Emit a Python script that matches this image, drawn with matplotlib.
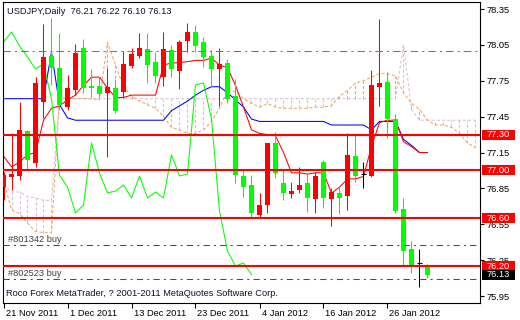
import matplotlib
matplotlib.use("Agg")
import matplotlib.pyplot as plt
from matplotlib.patches import Rectangle
from matplotlib.transforms import blended_transform_factory, ScaledTranslation
import numpy as np

plt.rcParams['font.family'] = ['Liberation Sans', 'DejaVu Sans']

# ---------------- data ----------------
title_text = "USDJPY,Daily  76.21 76.22 76.10 76.13"
copyright_text = "Roco Forex MetaTrader, ? 2001-2011 MetaQuotes Software Corp."

opens = [76.862, 76.945, 76.954, 77.330, 77.062, 77.572, 77.957, 77.857, 77.531, 77.673,
         78.024, 77.706, 77.706, 77.648, 77.689, 77.656, 77.873, 77.957, 78.016, 77.907,
         77.781, 78.007, 77.832, 78.082, 78.158, 78.074, 77.957, 77.848, 77.899, 77.623,
         76.954, 76.878, 76.628, 76.711, 77.230, 76.895, 76.803, 76.837, 76.895, 76.761,
         77.071, 76.761, 76.812, 76.787, 77.121, 76.970, 76.954, 77.698, 77.740, 77.430,
         76.678, 76.343, 76.226, 76.21]
highs = [76.987, 77.313, 77.572, 77.340, 77.781, 78.225, 78.275, 78.149, 77.798, 78.057,
         78.099, 77.848, 77.781, 77.857, 77.765, 77.999, 78.024, 78.149, 78.149, 77.990,
         78.158, 78.049, 78.091, 78.233, 78.216, 78.116, 78.007, 78.024, 77.932, 77.765,
         77.004, 76.962, 76.812, 77.230, 77.322, 77.004, 76.904, 77.029, 76.970, 76.987,
         77.087, 76.853, 76.862, 77.313, 77.297, 77.071, 77.840, 78.266, 77.823, 77.472,
         76.770, 76.410, 76.343, 76.22]
lows = [76.753, 76.837, 76.920, 77.004, 77.029, 77.439, 77.715, 77.506, 77.506, 77.631,
        77.648, 77.614, 77.614, 77.113, 77.480, 77.614, 77.857, 77.940, 77.731, 77.731,
        77.706, 77.781, 77.681, 77.990, 77.990, 77.865, 77.706, 77.539, 77.564, 76.895,
        76.778, 76.603, 76.611, 76.644, 76.937, 76.753, 76.770, 76.812, 76.653, 76.644,
        76.686, 76.536, 76.636, 76.669, 76.904, 76.853, 76.945, 77.539, 77.271, 76.644,
        76.210, 76.143, 76.026, 76.10]
closes = [76.962, 76.970, 77.338, 77.088, 77.731, 77.949, 77.857, 77.547, 77.689, 77.982,
          77.689, 77.689, 77.639, 77.698, 77.497, 77.890, 77.974, 78.024, 77.882, 77.790,
          78.016, 77.848, 78.074, 78.158, 78.041, 77.949, 77.848, 77.890, 77.598, 76.962,
          76.862, 76.644, 76.711, 77.230, 76.979, 76.812, 76.828, 76.878, 76.770, 76.954,
          76.770, 76.820, 76.770, 77.129, 76.954, 76.970, 77.715, 77.731, 77.430, 76.661,
          76.327, 76.201, 76.226, 76.13]

tenkan = [77.12, 77.03, 77.07, 77.13, 77.15, 77.42, 77.52, 77.54, 77.59, 77.63,
          77.71, 77.78, 77.78, 77.69, 77.61, 77.61, 77.63, 77.63, 77.63, 77.63,
          77.88, 77.90, 77.90, 77.91, 77.92, 77.92, 77.94, 77.88, 77.86, 77.71,
          77.53, 77.34, 77.31, 77.30, 77.29, 77.15, 76.98, 76.98, 76.97, 76.98,
          76.98, 76.81, 76.86, 76.93, 76.93, 76.95, 77.20, 77.40, 77.42, 77.42,
          77.24, 77.20, 77.15, 77.15]
kijun = [77.60, 77.60, 77.60, 77.60, 77.60, 77.60, 77.99, 77.55, 77.44, 77.42,
         77.42, 77.42, 77.42, 77.42, 77.42, 77.42, 77.42, 77.42, 77.42, 77.42,
         77.42, 77.50, 77.54, 77.58, 77.63, 77.67, 77.70, 77.70, 77.65, 77.59,
         77.53, 77.43, 77.41, 77.41, 77.41, 77.41, 77.41, 77.41, 77.41, 77.41,
         77.41, 77.38, 77.38, 77.38, 77.38, 77.38, 77.34, 77.41, 77.41, 77.41,
         77.26, 77.21, 77.15, 77.15]
chikou_shift = 22
span_a = [76.92, 76.67, 76.64, 76.56, 76.49, 76.48, 76.48, 77.61, 77.60, 77.60,
          77.60, 77.60, 77.59, 78.07, 77.88, 77.70, 77.62, 77.58, 77.55, 77.52,
          77.45, 77.36, 77.34, 77.31, 77.31, 77.34, 77.41, 77.52, 77.67, 77.66,
          77.60, 77.56, 77.53, 77.56, 77.53, 77.52, 77.52, 77.52, 77.52, 77.53,
          77.53, 77.54, 77.62, 77.67, 77.73, 77.75, 77.78, 77.81, 77.81, 77.79,
          77.65, 77.56, 77.51, 77.42, 77.38, 77.38, 77.36, 77.31, 77.23, 77.19]
span_b = [76.88, 76.82, 76.82, 76.78, 76.77, 76.75, 76.75, 77.60, 77.60, 77.60,
          77.60, 77.60, 77.60, 77.60, 77.60, 77.60, 77.60, 77.60, 77.60, 77.60,
          77.60, 77.60, 77.60, 77.60, 77.60, 77.60, 77.60, 77.60, 77.60, 77.60,
          77.60, 77.60, 77.60, 77.60, 77.60, 77.60, 77.60, 77.60, 77.60, 77.60,
          77.60, 77.60, 77.60, 77.60, 77.60, 77.60, 77.60, 77.60, 77.60, 77.60,
          78.05, 77.51, 77.42, 77.42, 77.42, 77.42, 77.42, 77.42, 77.42, 77.42]

sr_levels = [77.30, 77.00, 76.60, 76.20]
pivot_level = 78.00
order_levels = [76.38, 76.09]
order_labels = ["#801342 buy", "#802523 buy"]

price_ticks = [78.35, 78.05, 77.75, 77.45, 77.15, 76.85, 76.55, 76.25, 75.95]
date_tick_idx = [0, 8, 16, 24, 32, 40, 48]
date_tick_labels = ["21 Nov 2011", "1 Dec 2011", "13 Dec 2011", "23 Dec 2011",
                    "4 Jan 2012", "16 Jan 2012", "26 Jan 2012"]

# ---------------- figure ----------------
W, H = 520, 320
DPI = 100
FS = 6.7
fig = plt.figure(figsize=(W / DPI, H / DPI), dpi=DPI)
fig.patch.set_facecolor("white")
ax = fig.add_axes([3 / W, 17 / H, 477 / W, 301 / H])
ax.set_facecolor("white")

px_per_bar = 8.0
ppu = 119.6  # pixels per price unit
ax.set_xlim(-0.5 / px_per_bar, 476.5 / px_per_bar)
ax.set_ylim(78.35 - 294 / ppu, 78.35 + 7 / ppu)

lw1 = 0.75
dot = (0, (3, 2))

# cloud
cx = np.arange(len(span_a))
sandy, thistle = "#F4A460", "#D8BFD8"
for i in cx:
    a, b = span_a[i], span_b[i]
    if abs(a - b) > 1e-9:
        ax.vlines(i, min(a, b), max(a, b), color=sandy if a > b else thistle,
                  lw=lw1, linestyles=dot, zorder=1)
ax.plot(cx, span_b, color=thistle, lw=lw1, ls=dot, zorder=1.1)
ax.plot(cx, span_a, color=sandy, lw=lw1, ls=dot, zorder=1.2)

n = len(closes)
idx = np.arange(n)
ax.plot(idx, kijun, color="#0000FF", lw=lw1, zorder=2)
ax.plot(idx, tenkan, color="#FF0000", lw=lw1, zorder=2)
ax.plot(idx[: n - chikou_shift], closes[chikou_shift:], color="#00FF00", lw=lw1, zorder=2)

# candles
bw = 5 / px_per_bar
for i in range(n):
    o, h, l, c = opens[i], highs[i], lows[i], closes[i]
    if c > o:
        col = "#FF0000"
    elif c < o:
        col = "#00FF00"
    else:
        col = "#000000"
    ax.vlines(i, l, h, color=col, lw=lw1, zorder=3)
    if col == "#000000":
        ax.hlines(o, i - bw / 2, i + bw / 2, color=col, lw=lw1, zorder=3)
    else:
        ax.bar(i, max(abs(c - o), 1.0 / ppu), bottom=min(o, c), width=bw,
               color=col, linewidth=0, zorder=3)

# horizontal objects
ax.axhline(pivot_level, color="#FF4500", lw=lw1, ls=(0, (7, 4, 2, 4)), zorder=4)
for lvl in sr_levels:
    ax.axhline(lvl, color="#FF0000", lw=1.5, zorder=4)
for lvl, lab in zip(order_levels, order_labels):
    ax.axhline(lvl, color="#008000", lw=lw1, ls=(0, (6, 4, 2, 4)), zorder=4)
    t = ax.text(5 / 477, lvl, lab, transform=blended_transform_factory(ax.transAxes, ax.transData),
                fontsize=FS, color="#404040", ha="left", va="bottom", zorder=5)
    t.set_transform(t.get_transform() + ScaledTranslation(0, 1 / DPI, fig.dpi_scale_trans))

# axes styling
for s in ax.spines.values():
    s.set_color("black")
    s.set_linewidth(0.8)
ax.yaxis.tick_right()
ax.set_yticks(price_ticks)
ax.set_yticklabels([f"{v:.2f}" for v in price_ticks])
ax.tick_params(axis="y", direction="out", length=3, width=0.8, pad=2,
               labelsize=FS, colors="black", right=True, left=False,
               labelright=True, labelleft=False)
ax.set_xticks(date_tick_idx)
ax.set_xticklabels(date_tick_labels)
ax.tick_params(axis="x", direction="out", length=3.5, width=0.8, pad=1,
               labelsize=FS, colors="black")
for lab in ax.get_xticklabels():
    lab.set_ha("left")
    lab.set_transform(lab.get_transform() + ScaledTranslation(2 / DPI, 0, fig.dpi_scale_trans))

# price boxes on the right scale
btr = blended_transform_factory(ax.transAxes, ax.transData)
x0 = (482 - 3) / 477
bwid = 33 / 477
hh = 5 / ppu
box_items = [(v, "#FF0000") for v in sr_levels] + [(closes[-1], "#000000")]
for v, fc in box_items:
    ax.add_patch(Rectangle((x0, v - hh), bwid, 2 * hh, transform=btr, facecolor=fc,
                           edgecolor="none", clip_on=False, zorder=10))
    ax.text(x0 + bwid / 2, v, f"{v:.2f}", transform=btr, fontsize=FS, color="white",
            ha="center", va="center", zorder=11, clip_on=False)

# texts
fig.text(7 / W, 1 - 11 / H, title_text, fontsize=FS, color="#101030", ha="left", va="center")
fig.text(6 / W, 1 - 294 / H, copyright_text, fontsize=FS, color="#101030", ha="left", va="center")

fig.savefig("out.png", dpi=DPI, facecolor="white")
